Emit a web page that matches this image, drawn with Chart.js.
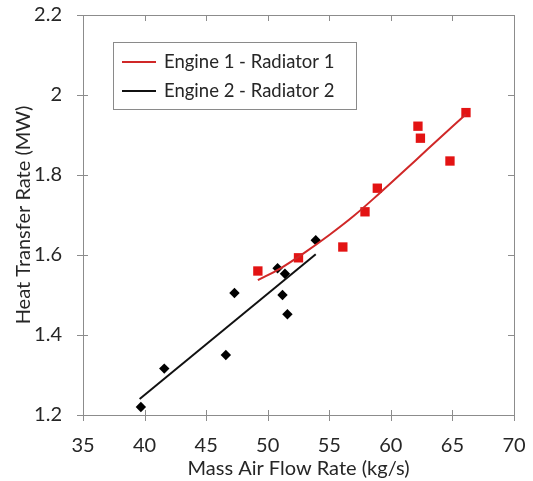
<!DOCTYPE html>
<html>
<head>
<meta charset="utf-8">
<script src="https://cdn.jsdelivr.net/npm/chart.js@4"></script>
<style>
  html, body { margin: 0; padding: 0; background: #fff; }
  #wrap { width: 533px; height: 481px; position: relative; }
</style>
</head>
<body>
<div id="wrap"><canvas id="heatChart" width="533" height="481"></canvas></div>
<script>
// Engine 1 - Radiator 1 measurements
const flow1 = [49.2, 52.5, 56.1, 57.9, 58.9, 62.2, 62.4, 64.8, 66.1];
const heat1 = [1.56, 1.593, 1.62, 1.708, 1.767, 1.922, 1.892, 1.835, 1.956];
// Engine 2 - Radiator 2 measurements
const flow2 = [39.7, 41.6, 46.6, 47.3, 50.8, 51.4, 51.2, 51.6, 53.9];
const heat2 = [1.22, 1.316, 1.35, 1.505, 1.567, 1.553, 1.50, 1.452, 1.637];
// trend lines
const fitFlow1 = [49.2, 51, 53, 55, 57, 59, 61, 63, 66.1];
const fitHeat1 = [1.537, 1.566, 1.606, 1.650, 1.698, 1.752, 1.808, 1.865, 1.952];
const fitFlow2 = [39.6, 53.9];
const fitHeat2 = [1.24, 1.602];

const xTicks = [35, 40, 45, 50, 55, 60, 65, 70];
const yTicks = [1.2, 1.4, 1.6, 1.8, 2.0, 2.2];
const legendLabels = ['Engine 1 - Radiator 1', 'Engine 2 - Radiator 2'];

const RED = '#e31313';
const RED_LINE = '#d02828';
const AXIS = '#8c8c8c';
const TEXT = '#262626';
const FONT = 'Lato, "Open Sans", sans-serif';

function pts(xs, ys) {
  return xs.map((x, i) => ({ x: x, y: ys[i] }));
}

// frame, ticks and inset legend
const framePlugin = {
  id: 'frame',
  afterDatasetsDraw(chart) {
    const { ctx, chartArea: a, scales } = chart;
    ctx.save();
    ctx.strokeStyle = AXIS;
    ctx.lineWidth = 1;
    ctx.strokeRect(a.left + 0.5, a.top + 0.5, a.right - a.left, a.bottom - a.top);
    ctx.beginPath();
    xTicks.forEach(v => {
      const px = Math.round(scales.x.getPixelForValue(v)) + 0.5;
      ctx.moveTo(px, a.bottom - 5); ctx.lineTo(px, a.bottom + 6);
      ctx.moveTo(px, a.top); ctx.lineTo(px, a.top + 6);
    });
    yTicks.forEach(v => {
      const py = Math.round(scales.y.getPixelForValue(v)) + 0.5;
      ctx.moveTo(a.left - 6, py); ctx.lineTo(a.left + 5, py);
      ctx.moveTo(a.right - 6, py); ctx.lineTo(a.right, py);
    });
    ctx.stroke();

    // legend box
    const lx = 113, ly = 42, lw = 243, lh = 67;
    ctx.fillStyle = '#fff';
    ctx.fillRect(lx, ly, lw, lh);
    ctx.strokeStyle = '#8a8a8a';
    ctx.strokeRect(lx + 0.5, ly + 0.5, lw, lh);
    const colors = [RED_LINE, '#111'];
    const rows = [62, 91];
    ctx.font = '18.5px ' + FONT;
    ctx.textBaseline = 'middle';
    rows.forEach((ry, i) => {
      ctx.strokeStyle = colors[i];
      ctx.lineWidth = 2;
      ctx.beginPath();
      ctx.moveTo(122, ry); ctx.lineTo(156, ry);
      ctx.stroke();
      ctx.fillStyle = TEXT;
      ctx.fillText(legendLabels[i], 164, ry);
    });
    ctx.restore();
  }
};

new Chart(document.getElementById('heatChart'), {
  type: 'scatter',
  data: {
    datasets: [
      {
        type: 'line', data: pts(fitFlow1, fitHeat1), borderColor: RED_LINE,
        borderWidth: 2, pointRadius: 0, cubicInterpolationMode: 'monotone', fill: false
      },
      {
        type: 'line', data: pts(fitFlow2, fitHeat2), borderColor: '#111',
        borderWidth: 2, pointRadius: 0, fill: false
      },
      {
        data: pts(flow1, heat1), pointStyle: 'rect', pointRadius: 6.6,
        backgroundColor: RED, borderColor: RED, borderWidth: 0
      },
      {
        data: pts(flow2, heat2), pointStyle: 'rectRot', pointRadius: 5.2,
        backgroundColor: '#000', borderColor: '#000', borderWidth: 0
      }
    ]
  },
  options: {
    responsive: false,
    animation: false,
    layout: { padding: { top: 15, right: 19, left: 0, bottom: 0 } },
    plugins: { legend: { display: false }, tooltip: { enabled: false } },
    scales: {
      x: {
        type: 'linear', min: 35, max: 70,
        afterBuildTicks: s => { s.ticks = xTicks.map(v => ({ value: v })); },
        afterFit: s => { s.height = 66; s.paddingLeft = 0; s.paddingRight = 0; },
        grid: { display: false },
        border: { display: false },
        ticks: { color: TEXT, font: { family: FONT, size: 20 }, padding: 11 },
        title: {
          display: true, text: 'Mass Air Flow Rate (kg/s)', color: TEXT,
          font: { family: FONT, size: 20 }, padding: { top: 0, bottom: 0 }
        }
      },
      y: {
        type: 'linear', min: 1.2, max: 2.2,
        afterBuildTicks: s => { s.ticks = yTicks.map(v => ({ value: v })); },
        afterFit: s => { s.width = 83; s.paddingTop = 0; s.paddingBottom = 0; },
        grid: { display: false },
        border: { display: false },
        ticks: {
          color: TEXT, font: { family: FONT, size: 20 }, padding: 13,
          callback: v => (v === 2 ? '2' : v.toFixed(1))
        },
        title: {
          display: true, text: 'Heat Transfer Rate (MW)', color: TEXT,
          font: { family: FONT, size: 20 }, padding: { top: 12, bottom: 0 }
        }
      }
    }
  },
  plugins: [framePlugin]
});
</script>
</body>
</html>
